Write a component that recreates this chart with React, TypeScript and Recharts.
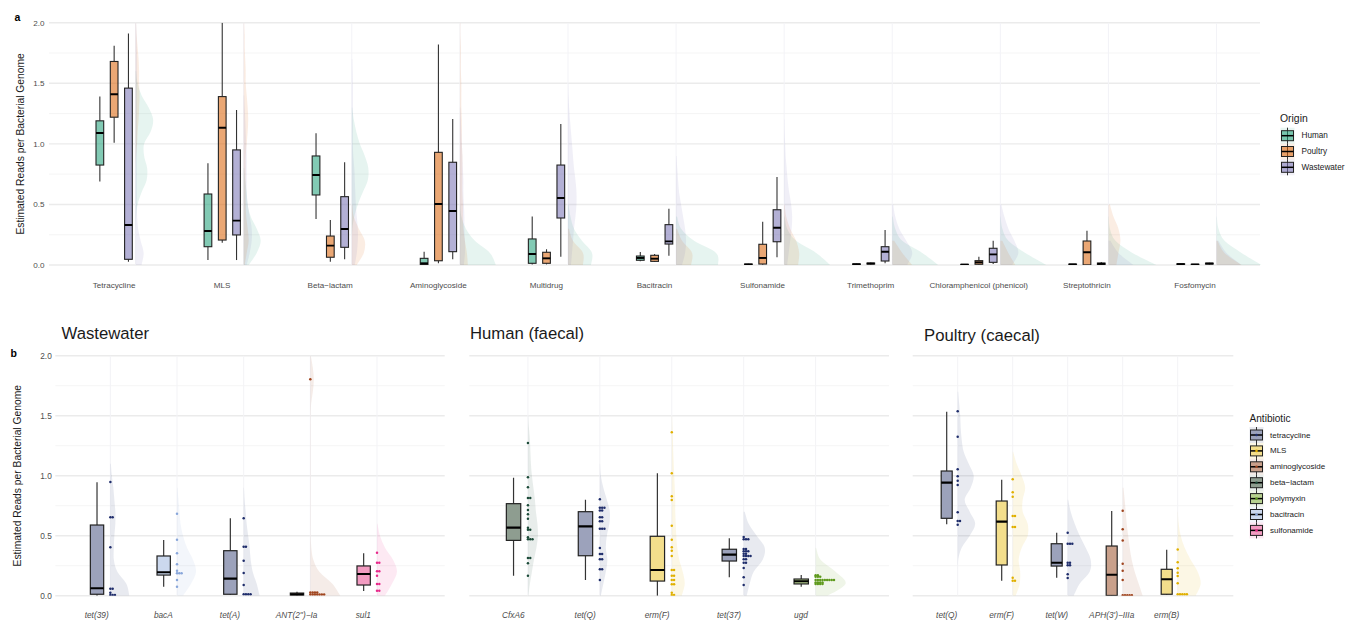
import React from 'react';
import { ComposedChart, Bar, XAxis, YAxis, CartesianGrid } from 'recharts';

const FONT = '"Liberation Sans", Arial, Helvetica, sans-serif';
const TICK_COLOR = '#4d4d4d';
const TEXT_COLOR = '#1a1a1a';

// ---------------- shared ----------------
const yTicks = [0, 0.5, 1, 1.5, 2];
const yMinorTicks = [0.25, 0.75, 1.25, 1.75];
const DENSITY_STEP = 0.1; // densities below were read on a 0.1 grid starting at 0

// ---------------- panel a ----------------
const classes = [
  'Tetracycline', 'MLS', 'Beta−lactam', 'Aminoglycoside', 'Multidrug', 'Bacitracin',
  'Sulfonamide', 'Trimethoprim', 'Chloramphenicol (phenicol)', 'Streptothricin', 'Fosfomycin',
];
const origins = ['Human', 'Poultry', 'Wastewater'];
const originColors = ['#1b9e77', '#d95f02', '#7570b3'];

// [min, q1, median, q3, max]
const humanBox = [
  [0.69, 0.825, 1.09, 1.19, 1.39],
  [0.041, 0.151, 0.28, 0.586, 0.84],
  [0.38, 0.578, 0.743, 0.9, 1.087],
  [0.0, 0.004, 0.014, 0.055, 0.11],
  [0.005, 0.014, 0.091, 0.215, 0.4],
  [0.03, 0.039, 0.058, 0.074, 0.107],
  [0.0, 0.002, 0.004, 0.008, 0.01],
  [0.0, 0.003, 0.006, 0.009, 0.012],
  [0.0, 0.001, 0.003, 0.005, 0.006],
  [0.0, 0.002, 0.005, 0.007, 0.009],
  [0.0, 0.004, 0.007, 0.01, 0.012],
];
const poultryBox = [
  [1.01, 1.22, 1.41, 1.68, 1.81],
  [0.184, 0.206, 1.133, 1.39, 2.0],
  [0.027, 0.064, 0.16, 0.239, 0.371],
  [0.014, 0.035, 0.503, 0.93, 1.82],
  [0.005, 0.014, 0.055, 0.105, 0.13],
  [0.025, 0.03, 0.052, 0.08, 0.09],
  [0.003, 0.008, 0.058, 0.171, 0.357],
  [0.004, 0.008, 0.012, 0.016, 0.02],
  [0.003, 0.006, 0.022, 0.036, 0.069],
  [0.0, 0.001, 0.105, 0.198, 0.283],
  [0.0, 0.002, 0.004, 0.006, 0.008],
];
const wastewaterBox = [
  [0.027, 0.047, 0.33, 1.46, 1.91],
  [0.041, 0.248, 0.366, 0.95, 1.28],
  [0.047, 0.146, 0.297, 0.564, 0.848],
  [0.047, 0.11, 0.446, 0.848, 1.205],
  [0.069, 0.388, 0.553, 0.825, 1.164],
  [0.077, 0.173, 0.195, 0.333, 0.465],
  [0.064, 0.192, 0.308, 0.456, 0.726],
  [0.014, 0.033, 0.11, 0.151, 0.289],
  [0.008, 0.022, 0.088, 0.138, 0.2],
  [0.0, 0.004, 0.01, 0.016, 0.025],
  [0.004, 0.008, 0.012, 0.015, 0.018],
];

// half-violin densities (0, 0.1, 0.2, ...)
const humanDensity = [
  [0, 0, 0, 0, 0.05, 0.2, 0.6, 1.1, 1.15, 0.85, 0.85, 1.5, 1.75, 1.3, 0.6, 0.2, 0.05],
  [0.5, 1.3, 1.7, 1.3, 0.7, 0.4, 0.3, 0.15, 0.05],
  [0, 0, 0, 0.05, 0.25, 0.6, 1.1, 1.6, 1.65, 1.3, 0.8, 0.45, 0.2, 0.05],
  [3.6, 3.0, 1.5, 0.6, 0.15, 0.03],
  [2.3, 2.4, 1.4, 0.6, 0.25, 0.05],
  [4.2, 4.0, 1.8, 0.5, 0.1],
  [4.6, 3.2, 1.2, 0.3, 0.05],
  [4.6, 3.0, 1.0, 0.3, 0.05],
  [4.6, 2.5, 0.8, 0.2, 0.03],
  [4.8, 2.4, 0.7, 0.15, 0.03],
  [4.5, 2.5, 0.8, 0.2, 0.03],
];
const poultryDensity = [
  [0, 0, 0, 0, 0, 0, 0, 0, 0, 0.05, 0.15, 0.2, 0.3, 0.35, 0.4, 0.35, 0.35, 0.3, 0.2, 0.1, 0.05],
  [0.1, 0.3, 0.5, 0.4, 0.25, 0.2, 0.2, 0.2, 0.2, 0.2, 0.3, 0.4, 0.45, 0.4, 0.3, 0.2, 0.2, 0.15, 0.1, 0.1, 0.05],
  [0.5, 1.2, 1.3, 0.7, 0.2, 0.05],
  [0.8, 0.7, 0.5, 0.35, 0.3, 0.3, 0.25, 0.25, 0.25, 0.25, 0.2, 0.2, 0.2, 0.15, 0.15, 0.15, 0.1, 0.1, 0.1, 0.05, 0.05],
  [1.5, 1.5, 0.5, 0.1],
  [1.5, 1.6, 0.6, 0.1],
  [1.4, 1.5, 1.2, 0.6, 0.2, 0.05],
  [2.0, 1.0, 0.2],
  [1.5, 0.8, 0.2],
  [0.8, 1.0, 1.2, 1.0, 0.5, 0.15],
  [2.5, 0.8, 0.1],
];
const wastewaterDensity = [
  [0.6, 0.8, 0.5, 0.25, 0.15, 0.12, 0.12, 0.12, 0.12, 0.12, 0.12, 0.12, 0.12, 0.12, 0.12, 0.15, 0.15, 0.15, 0.12, 0.1, 0.05],
  [0.3, 0.6, 0.8, 0.8, 0.6, 0.4, 0.3, 0.3, 0.3, 0.3, 0.25, 0.2, 0.15, 0.1, 0.05],
  [0.3, 0.5, 0.6, 0.6, 0.5, 0.4, 0.35, 0.3, 0.25, 0.15, 0.1, 0.1, 0.1, 0.1, 0.1, 0.1, 0.08, 0.05],
  [0.4, 0.5, 0.5, 0.45, 0.45, 0.4, 0.35, 0.35, 0.3, 0.25, 0.2, 0.15, 0.1, 0.05],
  [0.3, 0.4, 0.5, 0.6, 0.75, 0.85, 0.85, 0.75, 0.6, 0.5, 0.4, 0.3, 0.2, 0.12, 0.05, 0.02],
  [0.6, 0.9, 1.0, 0.9, 0.7, 0.5, 0.3, 0.2, 0.12, 0.05],
  [0.3, 0.45, 0.6, 0.75, 0.8, 0.7, 0.5, 0.35, 0.25, 0.15, 0.1, 0.05, 0.03],
  [1.5, 2.0, 1.4, 0.7, 0.3, 0.1],
  [1.2, 1.8, 1.4, 0.8, 0.4, 0.1],
  [2.5, 1.0, 0.2],
  [2.5, 1.0, 0.2],
];

// ---------------- panel b ----------------
const abxClasses = ['tetracycline', 'MLS', 'aminoglycoside', 'beta−lactam', 'polymyxin', 'bacitracin', 'sulfonamide'];
const abxBoxFill = ['#9ca2bb', '#f3de8c', '#c9a08b', '#8e9d90', '#b7d18f', '#cbd8ee', '#f29bc1'];
const abxDotColor = ['#1f2d6b', '#e0b000', '#a0451f', '#1b4a38', '#5f9a1e', '#88a6da', '#e7298a'];

// Wastewater
const wwGenes = ['tet(39)', 'bacA', 'tet(A)', 'ANT(2\'\')−Ia', 'sul1'];
const wwClass = ['tetracycline', 'bacitracin', 'tetracycline', 'aminoglycoside', 'sulfonamide'];
const wwBox = [
  [0.0, 0.012, 0.062, 0.589, 0.945],
  [0.075, 0.172, 0.195, 0.331, 0.464],
  [0.005, 0.012, 0.142, 0.375, 0.645],
  [0.0, 0.004, 0.012, 0.022, 0.032],
  [0.039, 0.089, 0.181, 0.248, 0.353],
];
// [value, count]
const wwDots = [
  [[0.947, 1], [0.653, 2], [0.403, 1], [0.058, 2], [0.025, 1], [0.006, 3]],
  [[0.683, 1], [0.467, 1], [0.353, 1], [0.262, 1], [0.208, 1], [0.187, 3], [0.131, 1], [0.075, 1]],
  [[0.645, 1], [0.408, 2], [0.292, 1], [0.189, 1], [0.089, 1], [0.012, 4]],
  [[1.803, 1], [0.026, 4], [0.01, 7]],
  [[0.358, 1], [0.275, 2], [0.203, 2], [0.167, 1], [0.098, 2], [0.042, 2]],
];
const wwDensity = [
  [1.9, 1.6, 0.7, 0.35, 0.35, 0.4, 0.5, 0.5, 0.4, 0.3, 0.15, 0.05],
  [0.6, 1.4, 1.9, 1.6, 1.0, 0.6, 0.35, 0.25, 0.15, 0.05],
  [1.6, 1.3, 0.9, 0.7, 0.6, 0.45, 0.3, 0.2, 0.1, 0.03],
  [3.0, 2.2, 0.9, 0.3, 0.1, 0.04, 0.04, 0.04, 0.04, 0.04, 0.04, 0.04, 0.04, 0.04, 0.04, 0.04, 0.08, 0.25, 0.35, 0.25, 0.05],
  [0.8, 1.5, 2.0, 1.6, 0.8, 0.3, 0.05],
];

// Human (faecal)
const huGenes = ['CfxA6', 'tet(Q)', 'erm(F)', 'tet(37)', 'ugd'];
const huClass = ['beta−lactam', 'tetracycline', 'MLS', 'tetracycline', 'polymyxin'];
const huBox = [
  [0.167, 0.461, 0.567, 0.767, 0.983],
  [0.131, 0.333, 0.578, 0.7, 0.8],
  [0.0, 0.122, 0.214, 0.495, 1.02],
  [0.153, 0.289, 0.342, 0.387, 0.478],
  [0.075, 0.098, 0.12, 0.139, 0.172],
];
const huDots = [
  [[1.272, 1], [0.987, 1], [0.903, 1], [0.814, 2], [0.753, 1], [0.714, 1], [0.678, 1], [0.642, 1], [0.567, 1], [0.55, 2], [0.487, 1], [0.47, 3], [0.314, 2], [0.27, 1], [0.167, 1]],
  [[0.803, 1], [0.733, 3], [0.711, 2], [0.653, 2], [0.62, 2], [0.558, 3], [0.397, 1], [0.347, 2], [0.303, 2], [0.22, 2], [0.131, 1]],
  [[1.362, 1], [1.02, 1], [0.828, 1], [0.797, 1], [0.583, 1], [0.467, 1], [0.403, 1], [0.375, 1], [0.331, 1], [0.214, 2], [0.167, 2], [0.131, 2], [0.095, 2], [0.025, 1], [0.006, 2]],
  [[0.489, 1], [0.47, 3], [0.389, 2], [0.37, 3], [0.35, 2], [0.331, 4], [0.303, 2], [0.275, 2], [0.231, 1], [0.153, 1], [0.089, 1]],
  [[0.17, 2], [0.158, 3], [0.13, 9], [0.11, 4], [0.098, 4]],
];
const huDensity = [
  [0.05, 0.2, 0.4, 0.6, 0.85, 1.0, 0.95, 0.8, 0.7, 0.55, 0.4, 0.3, 0.25, 0.2, 0.1, 0.02],
  [0.1, 0.35, 0.6, 0.75, 0.6, 0.7, 0.95, 1.0, 0.7, 0.35, 0.1, 0.02],
  [1.0, 1.3, 1.1, 0.75, 0.55, 0.45, 0.4, 0.35, 0.35, 0.3, 0.25, 0.2, 0.15, 0.12, 0.08, 0.03],
  [0.3, 0.6, 1.0, 1.9, 2.1, 1.3, 0.5, 0.1],
  [1.2, 3.0, 2.0, 0.5, 0.05],
];

// Poultry (caecal)
const poGenes = ['tet(Q)', 'erm(F)', 'tet(W)', 'APH(3\')−IIIa', 'erm(B)'];
const poClass = ['tetracycline', 'MLS', 'tetracycline', 'aminoglycoside', 'MLS'];
const poBox = [
  [0.595, 0.645, 0.942, 1.039, 1.533],
  [0.125, 0.256, 0.617, 0.789, 0.967],
  [0.15, 0.247, 0.275, 0.433, 0.525],
  [0.0, 0.002, 0.175, 0.414, 0.706],
  [0.005, 0.012, 0.137, 0.22, 0.383],
];
const poDots = [
  [[1.537, 1], [1.325, 1], [1.053, 1], [0.995, 1], [0.958, 1], [0.922, 1], [0.695, 1], [0.622, 2], [0.592, 1]],
  [[0.97, 1], [0.862, 1], [0.825, 1], [0.664, 2], [0.572, 2], [0.15, 1], [0.125, 2]],
  [[0.525, 1], [0.433, 3], [0.275, 2], [0.253, 2], [0.178, 1], [0.147, 1]],
  [[0.708, 1], [0.553, 1], [0.461, 1], [0.267, 1], [0.208, 1], [0.131, 1], [0.003, 5]],
  [[0.386, 1], [0.278, 1], [0.228, 1], [0.192, 1], [0.164, 1], [0.103, 1], [0.012, 5]],
];
const poDensity = [
  [0, 0, 0, 0.05, 0.4, 1.2, 1.75, 1.2, 0.7, 1.3, 1.6, 1.1, 0.6, 0.4, 0.3, 0.25, 0.15, 0.05],
  [0.3, 0.7, 0.75, 0.6, 0.9, 1.5, 1.5, 1.0, 1.0, 1.25, 0.9, 0.4, 0.05],
  [0.6, 1.2, 2.2, 2.3, 1.8, 1.2, 0.7, 0.3, 0.05],
  [2.0, 1.6, 1.2, 0.9, 0.7, 0.55, 0.4, 0.3, 0.2, 0.08],
  [1.8, 2.3, 2.0, 1.3, 0.7, 0.3, 0.1, 0.02],
];

// ---------------- drawing helpers ----------------
const DENS_PX = 10; // px per density unit

// linear value->pixel map derived from a bar drawn by recharts from 0 to `top`
function scaleFromBar(props: any, top: number) {
  const base = props.y + props.height;
  const h = props.height;
  return (v: number) => base - (h * v) / top;
}

function violinPath(base: number, dens: number[], px: (v: number) => number): string {
  const pts = dens.map((d, i) => [base + d * DENS_PX, px(i * DENSITY_STEP)] as [number, number]);
  if (!pts.length) return '';
  let p = `M${base},${px(0)} L${pts[0][0]},${pts[0][1]}`;
  for (let i = 0; i < pts.length - 1; i++) {
    const p0 = pts[i - 1] || pts[i];
    const p1 = pts[i];
    const p2 = pts[i + 1];
    const p3 = pts[i + 2] || pts[i + 1];
    const c1x = Math.max(base, p1[0] + (p2[0] - p0[0]) / 6);
    const c1y = p1[1] + (p2[1] - p0[1]) / 6;
    const c2x = Math.max(base, p2[0] - (p3[0] - p1[0]) / 6);
    const c2y = p2[1] - (p3[1] - p1[1]) / 6;
    p += ` C${c1x},${c1y} ${c2x},${c2y} ${p2[0]},${p2[1]}`;
  }
  const last = pts[pts.length - 1];
  p += ` L${base},${last[1]} Z`;
  return p;
}

function BoxGlyph({ cx, w, px, s, fill, fillOpacity, lw }: any) {
  const yMin = px(s[0]);
  const yQ1 = px(s[1]);
  const yMed = px(s[2]);
  const yQ3 = px(s[3]);
  const yMax = px(s[4]);
  return (
    <g>
      <line x1={cx} x2={cx} y1={yMax} y2={yQ3} stroke="#333" strokeWidth={lw} />
      <line x1={cx} x2={cx} y1={yQ1} y2={yMin} stroke="#333" strokeWidth={lw} />
      <rect x={cx - w / 2} y={yQ3} width={w} height={Math.max(yQ1 - yQ3, 0.3)} fill={fill} fillOpacity={fillOpacity} stroke="#222" strokeWidth={lw} />
      <line x1={cx - w / 2} x2={cx + w / 2} y1={yMed} y2={yMed} stroke="#000" strokeWidth={lw * 1.75} />
    </g>
  );
}

// ---------------- panel a chart ----------------
const A_W = 1347;
const A_H = 300;
const A_MARGIN = { top: 22.7, right: 87, bottom: 0, left: 0 };
const A_YW = 49;
const A_PAD = 11;
const A_BAND = (A_W - A_MARGIN.left - A_MARGIN.right - A_YW - 2 * A_PAD) / classes.length;

const topRows = classes.map((cls, i) => {
  const dens = [humanDensity[i], poultryDensity[i], wastewaterDensity[i]];
  return {
    cls,
    stats: [humanBox[i], poultryBox[i], wastewaterBox[i]],
    dens,
    vTop: Math.max(...dens.map((d) => (d.length - 1) * DENSITY_STEP)),
  };
});

const topViolinShape = (props: any) => {
  const row = props.payload;
  const px = scaleFromBar(props, row.vTop);
  const base = props.x + props.width / 2 + 0.2 * A_BAND;
  return (
    <g>
      <line x1={base} x2={base} y1={px(0)} y2={px(2)} stroke="#f3f3f7" strokeWidth={1} />
      {row.dens.map((d: number[], oi: number) => (
        <path key={oi} d={violinPath(base, d, px)} fill={originColors[oi]} fillOpacity={0.11} stroke="none" />
      ))}
    </g>
  );
};

const makeOriginBox = (oi: number) => (props: any) => {
  const s = props.payload.stats[oi];
  const px = scaleFromBar(props, s[4]);
  const cx = props.x + props.width / 2;
  return <BoxGlyph cx={cx} w={props.width} px={px} s={s} fill={originColors[oi]} fillOpacity={0.55} lw={1.1} />;
};

function PanelA() {
  const tickStyle = { fontSize: 8.1, fill: TICK_COLOR, fontFamily: FONT };
  return (
    <div style={{ position: 'absolute', left: 0, top: 0, width: A_W, height: A_H }}>
      <ComposedChart width={A_W} height={A_H} data={topRows} margin={A_MARGIN} barGap={6.6}>
        <CartesianGrid xAxisId="box" vertical={false} horizontalValues={yMinorTicks} stroke="#f2f2f2" strokeWidth={0.8} />
        <CartesianGrid xAxisId="box" vertical={false} horizontalValues={yTicks} stroke="#ebebeb" strokeWidth={1.4} />
        <XAxis xAxisId="box" dataKey="cls" type="category" interval={0} axisLine={false} tickLine={false} tickSize={0} tickMargin={17} height={35} padding={{ left: A_PAD, right: A_PAD }} tick={tickStyle} />
        <XAxis xAxisId="vio" dataKey="cls" type="category" hide height={0} padding={{ left: A_PAD, right: A_PAD }} />
        <YAxis domain={[0, 2]} ticks={yTicks} allowDataOverflow tickFormatter={(v: number) => v.toFixed(1)} width={A_YW} axisLine={false} tickLine={false} tickSize={0} tickMargin={4.5} tick={tickStyle} />
        <Bar xAxisId="vio" dataKey="vTop" barSize={2} shape={topViolinShape} isAnimationActive={false} />
        {origins.map((o, oi) => (
          <Bar key={o} name={o} xAxisId="box" dataKey={(d: any) => d.stats[oi][4]} barSize={7.7} shape={makeOriginBox(oi)} isAnimationActive={false} />
        ))}
      </ComposedChart>
    </div>
  );
}

// ---------------- panel b charts ----------------
const B_TOP = 340;
const B_H = 284;
const B_MARGIN_TOP = 15.7;
const B_XH = 28.3;
const B_YW = 55.3;
const DOT_R = 1.25;
const DOT_GAP = 2.3;

function GeneFacet(p: any) {
  const { genes, geneClass, box, dots, density, left, width, marginLeft, marginRight, padLeft, padRight, showY } = p;
  const plotW = width - marginLeft - marginRight - (showY ? B_YW : 0);
  const band = (plotW - padLeft - padRight) / genes.length;
  const rows = genes.map((g: string, i: number) => ({
    gene: g,
    ci: abxClasses.indexOf(geneClass[i]),
    box: box[i],
    dots: dots[i],
    dens: density[i],
    top: Math.max(box[i][4], ...dots[i].map((d: number[]) => d[0]), (density[i].length - 1) * DENSITY_STEP),
  }));
  const shape = (props: any) => {
    const row = props.payload;
    const px = scaleFromBar(props, row.top);
    const cx = props.x + props.width / 2;
    const base = cx + props.width;
    const dotColor = abxDotColor[row.ci];
    return (
      <g>
        <line x1={base} x2={base} y1={px(0)} y2={px(2)} stroke="#f3f3f6" strokeWidth={1} />
        <path d={violinPath(base, row.dens, px)} fill={dotColor} fillOpacity={0.1} stroke="none" />
        <BoxGlyph cx={cx} w={props.width} px={px} s={row.box} fill={abxBoxFill[row.ci]} fillOpacity={1} lw={1.2} />
        {row.dots.map((d: number[], k: number) =>
          Array.from({ length: d[1] }, (_, j) => (
            <circle key={`${k}-${j}`} cx={base + j * DOT_GAP} cy={px(d[0])} r={DOT_R} fill={dotColor} />
          ))
        )}
      </g>
    );
  };
  const tickStyle = { fontSize: 8.3, fill: TICK_COLOR, fontFamily: FONT };
  return (
    <div style={{ position: 'absolute', left, top: B_TOP, width, height: B_H }}>
      <ComposedChart width={width} height={B_H} data={rows} margin={{ top: B_MARGIN_TOP, right: marginRight, bottom: 0, left: marginLeft }}>
        <CartesianGrid vertical={false} horizontalValues={yMinorTicks} stroke="#f2f2f2" strokeWidth={0.8} />
        <CartesianGrid vertical={false} horizontalValues={yTicks} stroke="#ebebeb" strokeWidth={1.4} />
        <XAxis dataKey="gene" type="category" interval={0} axisLine={false} tickLine={false} tickSize={0} tickMargin={16.4} height={B_XH} padding={{ left: padLeft, right: padRight }} tick={{ ...tickStyle, fontStyle: 'italic' }} />
        <YAxis domain={[0, 2]} ticks={yTicks} allowDataOverflow hide={!showY} width={showY ? B_YW : 0} tickFormatter={(v: number) => v.toFixed(1)} axisLine={false} tickLine={false} tickSize={0} tickMargin={3.5} tick={tickStyle} />
        <Bar dataKey="top" barSize={band * 0.2} shape={shape} isAnimationActive={false} />
      </ComposedChart>
    </div>
  );
}

// ---------------- legends / titles ----------------
function Overlay() {
  return (
    <svg width={1347} height={624} style={{ position: 'absolute', left: 0, top: 0, pointerEvents: 'none' }} fontFamily={FONT}>
      <text x={14.5} y={20.5} fontSize={10.5} fontWeight="bold" fill="#000">a</text>
      <text x={10.5} y={356.5} fontSize={10.5} fontWeight="bold" fill="#000">b</text>
      <text transform="translate(20,143.9) rotate(-90)" textAnchor="middle" dominantBaseline="central" fontSize={10.3} fill={TEXT_COLOR}>
        Estimated Reads per Bacterial Genome
      </text>
      <text transform="translate(17.5,475.7) rotate(-90)" textAnchor="middle" dominantBaseline="central" fontSize={10.3} fill={TEXT_COLOR}>
        Estimated Reads per Bacterial Genome
      </text>
      <text x={61.5} y={338.5} fontSize={16.7} fill={TEXT_COLOR}>Wastewater</text>
      <text x={470} y={338.5} fontSize={16.7} fill={TEXT_COLOR}>Human (faecal)</text>
      <text x={924} y={340.5} fontSize={16.7} fill={TEXT_COLOR}>Poultry (caecal)</text>

      {/* Origin legend */}
      <text x={1280} y={121.5} fontSize={10.4} fill={TEXT_COLOR}>Origin</text>
      {origins.map((o, i) => {
        const cy = 135.7 + i * 15.8;
        return (
          <g key={o}>
            <rect x={1280.5} y={cy - 8} width={14} height={16} fill={originColors[i]} fillOpacity={0.1} />
            <line x1={1287.5} x2={1287.5} y1={cy - 8} y2={cy + 8} stroke="#333" strokeWidth={1} />
            <rect x={1281.5} y={cy - 5} width={12} height={10} fill={originColors[i]} fillOpacity={0.55} stroke="#222" strokeWidth={1} />
            <line x1={1281.5} x2={1293.5} y1={cy} y2={cy} stroke="#000" strokeWidth={1.5} />
            <text x={1301.5} y={cy} dominantBaseline="central" fontSize={8.2} fill={TEXT_COLOR}>{o}</text>
          </g>
        );
      })}

      {/* Antibiotic legend */}
      <text x={1249.5} y={421.8} fontSize={10.1} fill={TEXT_COLOR}>Antibiotic</text>
      {abxClasses.map((c, i) => {
        const cy = 435 + i * 15.9;
        return (
          <g key={c}>
            <rect x={1249.5} y={cy - 8} width={14} height={16} fill={abxDotColor[i]} fillOpacity={0.1} />
            <line x1={1256.5} x2={1256.5} y1={cy - 8} y2={cy + 8} stroke="#333" strokeWidth={1} />
            <rect x={1250.5} y={cy - 5} width={12} height={10} fill={abxBoxFill[i]} stroke="#222" strokeWidth={1} />
            <line x1={1250.5} x2={1262.5} y1={cy} y2={cy} stroke="#000" strokeWidth={1.5} />
            <circle cx={1256.5} cy={cy} r={1.3} fill={abxDotColor[i]} />
            <text x={1270} y={cy} dominantBaseline="central" fontSize={8} fill={TEXT_COLOR}>{c}</text>
          </g>
        );
      })}
    </svg>
  );
}

export default function App() {
  return (
    <div style={{ position: 'absolute', left: 0, top: 0, width: 1347, height: 624, background: '#fff', fontFamily: FONT, overflow: 'hidden' }}>
      <PanelA />
      <GeneFacet genes={wwGenes} geneClass={wwClass} box={wwBox} dots={wwDots} density={wwDensity}
        left={0} width={450} marginLeft={0} marginRight={5.3} padLeft={8.05} padRight={48.05} showY />
      <GeneFacet genes={huGenes} geneClass={huClass} box={huBox} dots={huDots} density={huDensity}
        left={460} width={440} marginLeft={9.3} marginRight={11} padLeft={8.05} padRight={52.05} showY={false} />
      <GeneFacet genes={poGenes} geneClass={poClass} box={poBox} dots={poDots} density={poDensity}
        left={905} width={340} marginLeft={7.7} marginRight={11.7} padLeft={6.5} padRight={39.1} showY={false} />
      <Overlay />
    </div>
  );
}
